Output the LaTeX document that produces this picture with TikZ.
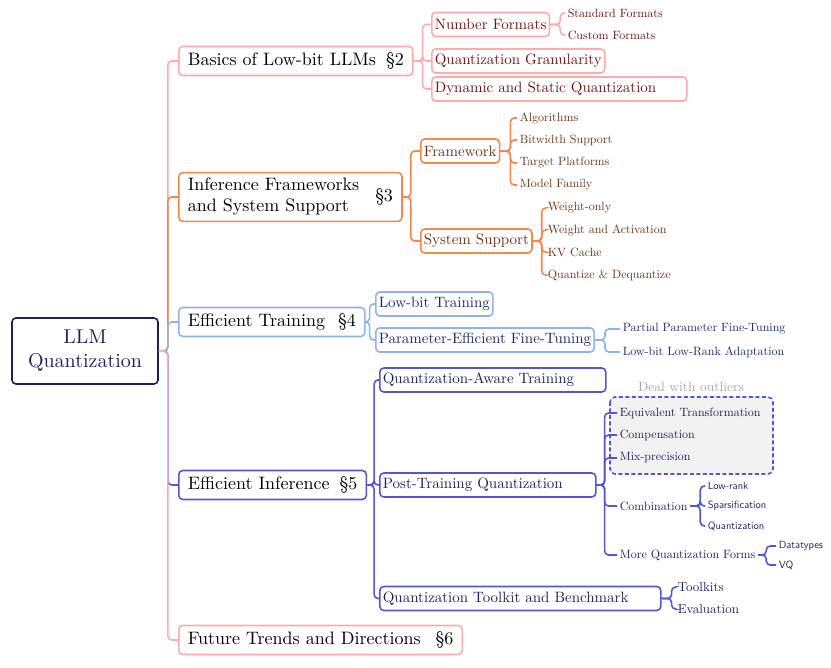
\documentclass[tikz,border=0pt]{standalone}
\usepackage{fontspec}
\setmainfont{lmroman10-regular.otf}[BoldFont=lmroman10-bold.otf]
\setsansfont{lmsans10-regular.otf}

\definecolor{rootc}{HTML}{1F1F5C}
\definecolor{pinkc}{HTML}{FFA9A9}
\definecolor{orangec}{HTML}{FB8446}
\definecolor{skyc}{HTML}{8DB2F4}
\definecolor{indigoc}{HTML}{5454D8}
\definecolor{maroonc}{HTML}{6E1414}
\definecolor{brownc}{HTML}{6A3515}
\definecolor{navyc}{HTML}{1A2A66}
\definecolor{inkc}{HTML}{202058}

\begin{document}
\begin{tikzpicture}[x=1pt, y=-1pt, line width=1.6pt,
        rootbox/.style = {draw=rootc,
            rounded corners=4pt,
            text=rootc, align=center,
            minimum width=146pt, minimum height=66pt,
            font=\fontsize{20}{24}\selectfont
        },
        topbox/.style = {draw=#1,
            rounded corners=4pt, anchor=west,
            inner xsep=9pt, minimum height=29pt,
            font=\fontsize{18}{21}\selectfont
        },
        subbox/.style 2 args = {draw=#1, text=#2,
            rounded corners=4pt, anchor=west,
            inner xsep=3pt, minimum height=24pt,
            font=\fontsize{15}{18}\selectfont
        },
        leaf/.style = {text=#1, anchor=west, inner sep=2pt,
            font=\fontsize{12}{14}\selectfont
        },
        smallleaf/.style = {text=#1, anchor=west, inner sep=2pt,
            font=\sffamily\fontsize{10.5}{12}\selectfont
        },
        link/.style = {draw=#1, rounded corners=4pt}
    ]
    \useasboundingbox (0,0) rectangle (831,668);

    % Root
    \node [rootbox] (root) at (85,351) {LLM\\Quantization};

    % Sections
    \node [topbox=pinkc] (basics) at (178,61) {Basics of Low-bit LLMs\hspace{10pt}\S2};
    \node [topbox=orangec] (frame) at (178,197) {\begin{tabular}{@{}l@{}}Inference Frameworks\\and System Support\end{tabular}\hspace{16pt}\S3};
    \node [topbox=skyc] (train) at (178,322) {Efficient Training\hspace{13pt}\S4};
    \node [topbox=indigoc] (infer) at (178,485) {Efficient Inference\hspace{10pt}\S5};
    \node [topbox=pinkc] (future) at (178,640) {Future Trends and Directions\hspace{15pt}\S6};

    % Basics of low-bit LLMs
    \node [subbox={pinkc}{maroonc}] (nf) at (431,24.5) {Number Formats};
    \node [subbox={pinkc}{maroonc}] (qg) at (431,61) {Quantization Granularity};
    \node [subbox={pinkc}{maroonc}, text width=249pt] (ds) at (431,89) {Dynamic and Static Quantization};
    \node [leaf=maroonc] (sf) at (565,13) {Standard Formats};
    \node [leaf=maroonc] (cf) at (565,35) {Custom Formats};

    % Frameworks and system support
    \node [subbox={orangec}{brownc}] (fw) at (420,151) {Framework};
    \node [subbox={orangec}{brownc}] (ss) at (420,241) {System Support};
    \node [leaf=brownc] (alg) at (517,118) {Algorithms};
    \node [leaf=brownc] (bw) at (517,140) {Bitwidth Support};
    \node [leaf=brownc] (tp) at (517,163) {Target Platforms};
    \node [leaf=brownc] (mf) at (517,185) {Model Family};
    \node [leaf=brownc] (wo) at (545,208) {Weight-only};
    \node [leaf=brownc] (wa) at (545,230) {Weight and Activation};
    \node [leaf=brownc] (kv) at (545,252) {KV Cache};
    \node [leaf=brownc] (qd) at (545,275) {Quantize \& Dequantize};

    % Efficient training
    \node [subbox={skyc}{navyc}] (lbt) at (375,304) {Low-bit Training};
    \node [subbox={skyc}{navyc}] (peft) at (375,340) {Parameter-Efficient Fine-Tuning};
    \node [leaf=navyc] (ppf) at (620,329) {Partial Parameter Fine-Tuning};
    \node [leaf=navyc] (lra) at (620,352) {Low-bit Low-Rank Adaptation};

    % Efficient inference
    \draw [indigoc, dash pattern=on 4pt off 2.5pt, rounded corners=5pt, fill=black!5]
        (610,397) rectangle (773,474);
    \node [text=black!35, font=\fontsize{13.5}{16}\selectfont] (dwo) at (691,387) {Deal with outliers};
    \node [subbox={indigoc}{inkc}, text width=220pt] (qat) at (379,380) {Quantization-Aware Training};
    \node [subbox={indigoc}{inkc}, text width=210pt] (ptq) at (379,485) {Post-Training Quantization};
    \node [subbox={indigoc}{inkc}, text width=275pt] (qtb) at (379,598.5) {Quantization Toolkit and Benchmark};
    \node [leaf=inkc] (et) at (617,413) {Equivalent Transformation};
    \node [leaf=inkc] (comp) at (617,435) {Compensation};
    \node [leaf=inkc] (mix) at (617,458) {Mix-precision};
    \node [leaf=inkc] (comb) at (617,506) {Combination};
    \node [leaf=inkc] (mqf) at (617,555) {More Quantization Forms};
    \node [smallleaf=inkc] (lr) at (705,486) {Low-rank};
    \node [smallleaf=inkc] (sp) at (705,506) {Sparsification};
    \node [smallleaf=inkc] (qz) at (705,526) {Quantization};
    \node [smallleaf=inkc] (dt) at (776,546) {Datatypes};
    \node [smallleaf=inkc] (vq) at (776,565) {VQ};
    \node [leaf=inkc, font=\fontsize{13}{15}\selectfont] (tk) at (675,587) {Toolkits};
    \node [leaf=inkc, font=\fontsize{13}{15}\selectfont] (ev) at (675,609) {Evaluation};

    % Links from the root
    \draw [link=pinkc] (root.east) -- ++(9,0) |- (basics.west);
    \draw [link=orangec] (root.east) -- ++(9,0) |- (frame.west);
    \draw [link=skyc] (root.east) -- ++(9,0) |- (train.west);
    \draw [link=indigoc] (root.east) -- ++(9,0) |- (infer.west);
    \draw [link=pinkc] (root.east) -- ++(9,0) |- (future.west);

    % Links inside each section
    \foreach \c in {nf,qg,ds}
        \draw [link=pinkc] (basics.east) -- ++(9,0) |- (\c.west);
    \foreach \c in {sf,cf}
        \draw [link=pinkc] (nf.east) -- ++(10,0) |- (\c.west);
    \foreach \c in {fw,ss}
        \draw [link=orangec] (frame.east) -- ++(8,0) |- (\c.west);
    \foreach \c in {alg,bw,tp,mf}
        \draw [link=orangec] (fw.east) -- ++(10,0) |- (\c.west);
    \foreach \c in {wo,wa,kv,qd}
        \draw [link=orangec] (ss.east) -- ++(9,0) |- (\c.west);
    \foreach \c in {lbt,peft}
        \draw [link=skyc] (train.east) -- ++(4,0) |- (\c.west);
    \foreach \c in {ppf,lra}
        \draw [link=skyc] (peft.east) -- ++(10,0) |- (\c.west);
    \foreach \c in {qat,ptq,qtb}
        \draw [link=indigoc] (infer.east) -- ++(7,0) |- (\c.west);
    \foreach \c in {et,comp,mix,comb,mqf}
        \draw [link=indigoc] (ptq.east) -- ++(8,0) |- (\c.west);
    \foreach \c in {lr,sp,qz}
        \draw [link=indigoc] (comb.east) -- ++(10,0) |- (\c.west);
    \foreach \c in {dt,vq}
        \draw [link=indigoc] (mqf.east) -- ++(8,0) |- (\c.west);
    \foreach \c in {tk,ev}
        \draw [link=indigoc] (qtb.east) -- ++(10,0) |- (\c.west);

\end{tikzpicture}
\end{document}
